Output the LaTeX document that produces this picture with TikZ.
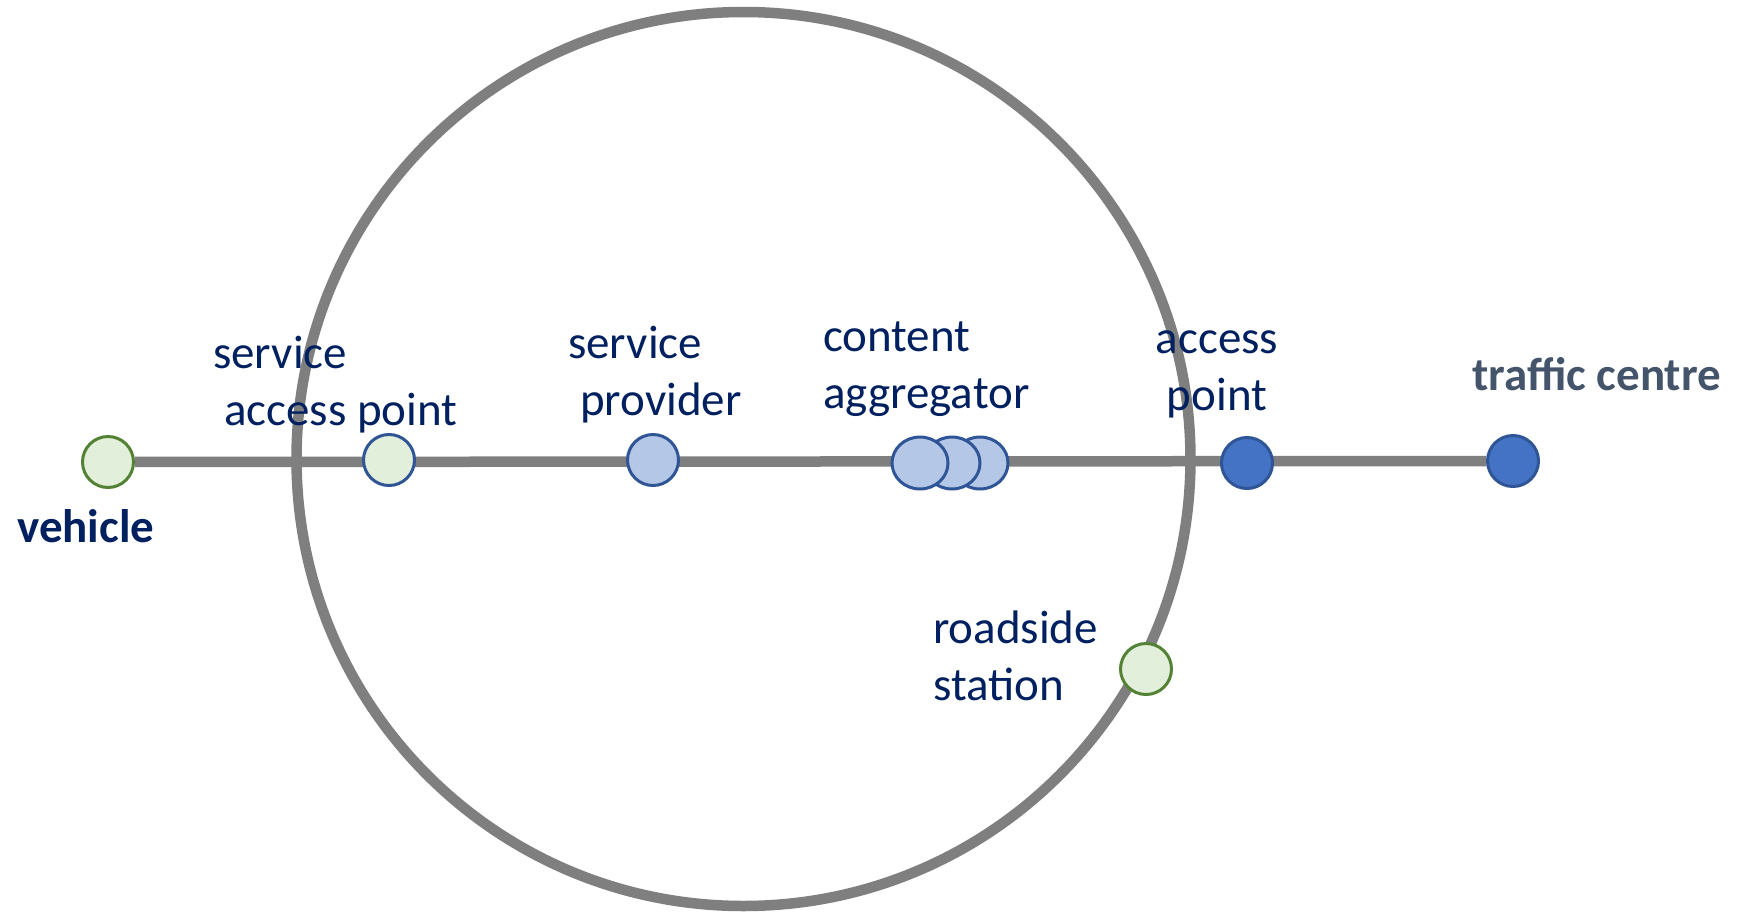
\documentclass[tikz,border=0pt]{standalone}
\usepackage{fontspec}
\setmainfont{Carlito}
\usetikzlibrary{shapes.geometric,backgrounds}
\definecolor{navy}{HTML}{002060}
\definecolor{slate}{HTML}{44546A}
\definecolor{linegray}{HTML}{7F7F7F}
\definecolor{lgreen}{HTML}{E2EFDA}
\definecolor{dgreen}{HTML}{548235}
\definecolor{lblue}{HTML}{B4C7E7}
\definecolor{mblue}{HTML}{4472C4}
\definecolor{bblue}{HTML}{2F5597}
\tikzset{
  dot/.style={circle, minimum size=51pt, inner sep=0pt, line width=3pt},
  greendot/.style={dot, fill=lgreen, draw=dgreen},
  greenbluedot/.style={dot, fill=lgreen, draw=bblue},
  lightdot/.style={dot, fill=lblue, draw=bblue},
  darkdot/.style={dot, fill=mblue, draw=bblue},
  aggdot/.style={ellipse, minimum width=56pt, minimum height=52pt, inner sep=0pt, line width=3pt, fill=lblue, draw=bblue},
  lbl/.style={anchor=base west, inner sep=0pt, align=left, text=navy, font=\fontsize{47}{57}\selectfont},
  boldlbl/.style={lbl, font=\fontsize{47}{57}\selectfont\bfseries},
  road/.style={draw=linegray, line width=10.5pt}
}
\begin{document}
\begin{tikzpicture}[x=1pt, y=-1pt]
\useasboundingbox (0,0) rectangle (1750,913);
% big ring
\coordinate (ringc) at (743.5,459);
% nodes
\node[greendot] (veh) at (108,462) {};
\node[greenbluedot] (sap) at (389,460) {};
\node[lightdot] (sp) at (653,460) {};
\node[aggdot] (ca3) at (980,463) {};
\node[aggdot] (ca2) at (952,463) {};
\node[aggdot] (ca1) at (920,463) {};
\node[darkdot] (ap) at (1247,463) {};
\node[darkdot] (tc) at (1513,461) {};
\node[greendot] (rs) at (1146,669) {};
\begin{scope}[on background layer]
\fill[white] (0,0) rectangle (1750,913);
\draw[road] (ringc) circle[radius=447pt];
\draw[road] (veh) -- (tc);
\end{scope}
% labels
\node[boldlbl] (vehl) at (17,542) {vehicle};
\node[lbl] (sapl) at (213,425) {service\\\hspace*{11pt}access point};
\node[lbl] (spl) at (568,415) {service\\\hspace*{12pt}provider};
\node[lbl] (cal) at (823,408) {content\\aggregator};
\node[lbl, align=center, anchor=base] (apl) at (1217,410) {access\\point};
\node[boldlbl, text=slate] (tcl) at (1472,390) {traffic centre};
\node[lbl] (rsl) at (933,700) {roadside\\station};
\end{tikzpicture}
\end{document}
